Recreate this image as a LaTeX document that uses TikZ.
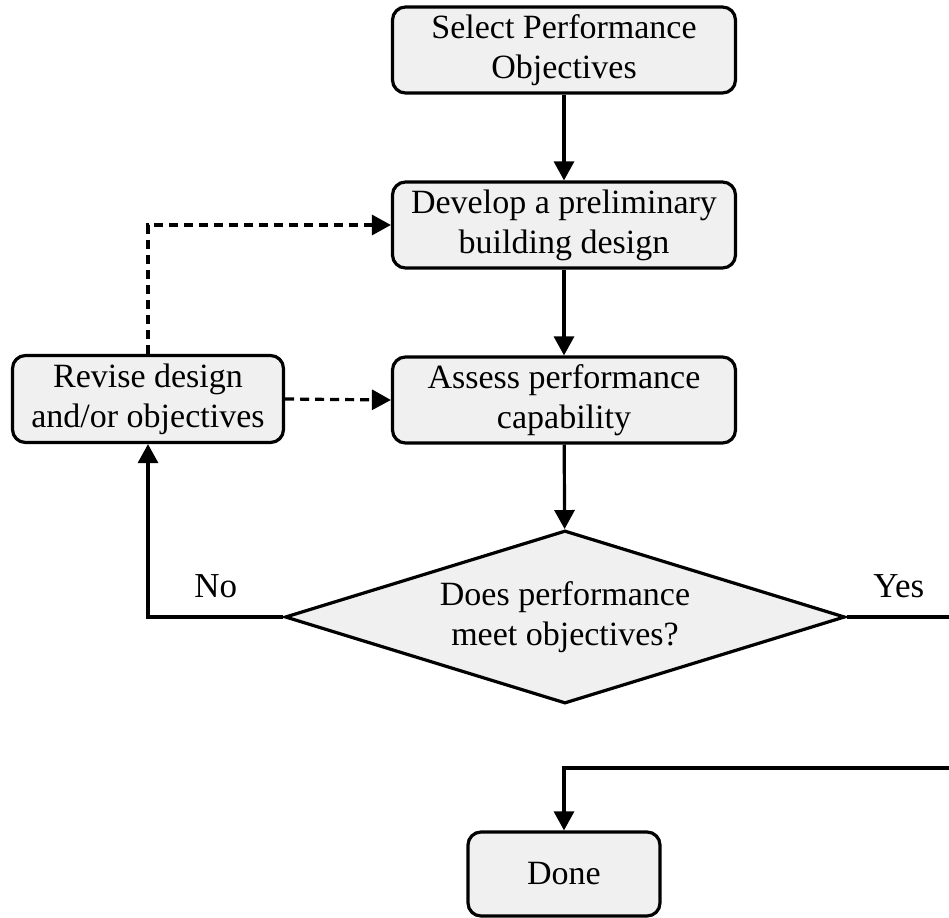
\documentclass[tikz,border=0pt]{standalone}
\usepackage{fontspec}
\setmainfont{Liberation Serif}
\usetikzlibrary{shapes.geometric,arrows.meta}
\tikzset{
  stepbox/.style={draw,line width=3.2pt,rounded corners=13pt,fill=black!6,
    align=center,inner sep=0pt,minimum width=343pt,minimum height=86pt},
  check/.style={draw,line width=3.2pt,fill=black!6,diamond,aspect=3.24,
    align=center,inner sep=0pt,minimum width=560pt,minimum height=173pt},
  flow/.style={line width=3.2pt,-{Triangle[width=20pt,length=19pt]}},
  back/.style={flow,dash pattern=on 9pt off 6pt}
}
\begin{document}
\begin{tikzpicture}[x=1pt,y=-1pt,font=\fontsize{34}{40}\selectfont]
\useasboundingbox (0,0) rectangle (949,917);
\node[stepbox] (select) at (564,50) {Select Performance\\Objectives};
\node[stepbox] (develop) at (564,225) {Develop a preliminary\\building design};
\node[stepbox] (assess) at (564,400) {Assess performance\\capability};
\node[stepbox,minimum width=271pt,minimum height=87pt] (revise) at (148,399) {Revise design\\and/or objectives};
\node[check] (meet) at (565,617) {Does performance\\meet objectives?};
\node[stepbox,minimum width=192pt,minimum height=84pt] (done) at (564,874) {Done};

\coordinate (yesend) at (951,617);
\coordinate (yesback) at (951,768);

\draw[flow] (select) -- (develop);
\draw[flow] (develop) -- (assess);
\draw[flow] (assess) -- (meet);
\draw[flow] (meet.west) -| node[pos=0.25,above=14pt,font=\fontsize{35}{40}\selectfont]{No} (revise.south);
\draw[line width=3.2pt] (meet.east) -- node[above=14pt,font=\fontsize{35}{40}\selectfont]{Yes} (yesend);
\draw[flow] (yesback) -| (done.north);
\draw[back] (revise.north) |- (develop.west);
\draw[back] (revise.east) -- (assess.west);
\end{tikzpicture}
\end{document}
